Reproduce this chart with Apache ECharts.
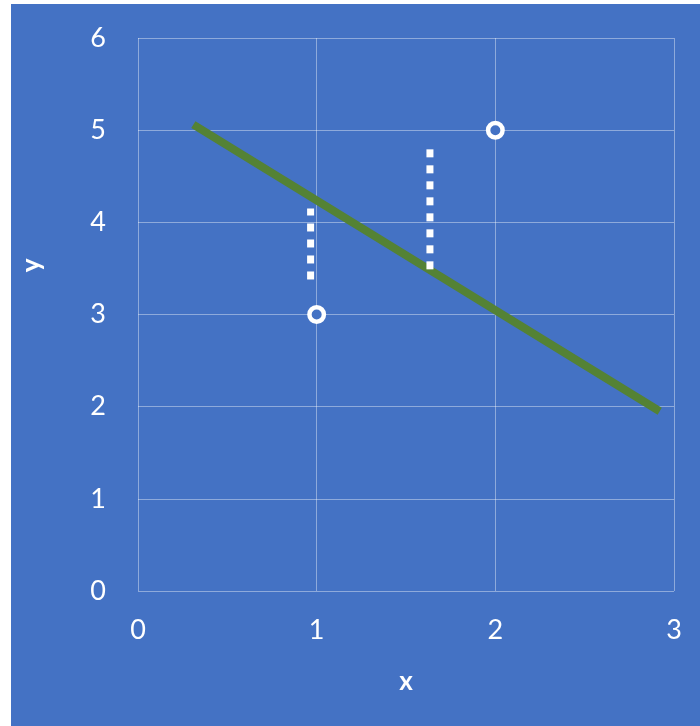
<!DOCTYPE html>
<html>
<head>
<meta charset="utf-8">
<script src="https://cdn.jsdelivr.net/npm/echarts@6/dist/echarts.min.js"></script>
<style>
  html, body { margin: 0; padding: 0; background: #ffffff; }
  #chart { position: absolute; left: 11px; top: 4px; width: 689px; height: 722px; }
</style>
</head>
<body>
<div id="chart"></div>
<script>
// Observed points
const pointsX = [1, 2];
const pointsY = [3, 5];

// Fitted line endpoints
const fitX = [0.31, 2.92];
const fitY = [5.06, 1.95];

// Vertical dotted segments (x, yFrom, yTo)
const seg1X = [0.966, 0.966];
const seg1Y = [3.38, 4.15];
const seg2X = [1.634, 1.634];
const seg2Y = [3.49, 4.84];

const xTicks = [0, 1, 2, 3];
const yTicks = [0, 1, 2, 3, 4, 5, 6];

const pairs = (xs, ys) => xs.map((x, i) => [x, ys[i]]);

const font = 'Lato, "Open Sans", sans-serif';
const chart = echarts.init(document.getElementById('chart'));
chart.setOption({
  backgroundColor: '#4472C4',
  animation: false,
  grid: { left: 127, right: 26, top: 34, bottom: 135, outerBoundsMode: 'none', containLabel: false },
  xAxis: {
    type: 'value',
    min: xTicks[0], max: xTicks[xTicks.length - 1], interval: 1,
    name: 'x', nameLocation: 'middle', nameGap: 78,
    nameTextStyle: { color: '#ffffff', fontSize: 26, fontWeight: 'bold', fontFamily: font },
    axisLine: { show: false }, axisTick: { show: false },
    axisLabel: { color: '#ffffff', fontSize: 27, fontFamily: font, margin: 26 },
    splitLine: { show: true, lineStyle: { color: 'rgba(255,255,255,0.4)', width: 1 } }
  },
  yAxis: {
    type: 'value',
    min: yTicks[0], max: yTicks[yTicks.length - 1], interval: 1,
    name: 'y', nameLocation: 'middle', nameGap: 93, nameRotate: 90,
    nameTextStyle: { color: '#ffffff', fontSize: 26, fontWeight: 'bold', fontFamily: font, padding: [0, 0, 0, 98] },
    axisLine: { show: false }, axisTick: { show: false },
    axisLabel: { color: '#ffffff', fontSize: 27, fontFamily: font, margin: 32 },
    splitLine: { show: true, lineStyle: { color: 'rgba(255,255,255,0.4)', width: 1 } }
  },
  series: [
    {
      type: 'line', data: pairs(fitX, fitY), symbol: 'none',
      lineStyle: { color: '#548235', width: 8, cap: 'butt' }, z: 2
    },
    {
      type: 'line', data: pairs(seg1X, seg1Y), symbol: 'none',
      lineStyle: { color: '#ffffff', width: 7, type: [8, 8], cap: 'butt' }, z: 3
    },
    {
      type: 'line', data: pairs(seg2X, seg2Y), symbol: 'none',
      lineStyle: { color: '#ffffff', width: 7, type: [8, 8], cap: 'butt' }, z: 3
    },
    {
      type: 'scatter', data: pairs(pointsX, pointsY), symbol: 'circle', symbolSize: 14.5,
      itemStyle: { color: '#4472C4', borderColor: '#ffffff', borderWidth: 4.5, opacity: 1 }, z: 4
    }
  ]
});
</script>
</body>
</html>
